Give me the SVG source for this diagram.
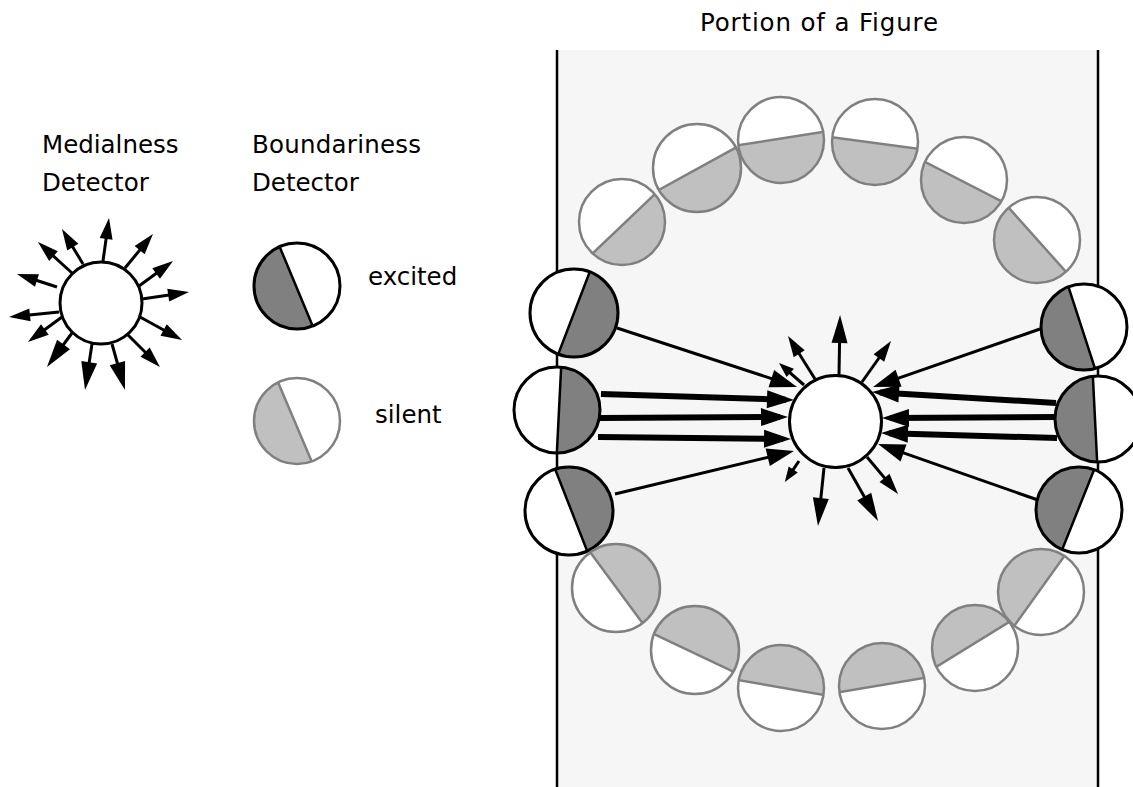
<svg xmlns="http://www.w3.org/2000/svg" width="1133" height="787" viewBox="0 0 1133 787">
<style>
 text { font-family: "DejaVu Sans", "Liberation Sans", sans-serif; font-size: 24.5px; fill: #000; }
 .bg { fill: #fff; }
 .dk { fill: #808080; stroke: #000; stroke-width: 2.5; }
 .lt { fill: #c0c0c0; stroke: #808080; stroke-width: 2.5; }
 .ring-ex { fill: none; stroke: #000; stroke-width: 3; }
 .ring-si { fill: none; stroke: #808080; stroke-width: 2.5; }
 .det { fill: #fff; stroke: #000; stroke-width: 3; }
 .sh { stroke: #000; stroke-width: 3; fill: none; }
 .thick { stroke-width: 6; }
 .sm { marker-end: url(#ah-sm); }
 .md { marker-end: url(#ah-md); }
 .lg { marker-end: url(#ah-lg); }
 .in { marker-end: url(#ah-in); }
 .edge { stroke: #000; stroke-width: 2.5; }
</style>
<defs>
 <clipPath id="c43"><circle r="43"/></clipPath>
 <clipPath id="c44"><circle r="44"/></clipPath>
 <marker id="ah-sm" markerUnits="userSpaceOnUse" markerWidth="15" markerHeight="11" refX="7" refY="5.5" orient="auto" overflow="visible"><path d="M0,0 L15,5.5 L0,11 z" fill="#000"/></marker>
 <marker id="ah-md" markerUnits="userSpaceOnUse" markerWidth="21" markerHeight="13" refX="13" refY="6.5" orient="auto" overflow="visible"><path d="M0,0 L21,6.5 L0,13 z" fill="#000"/></marker>
 <marker id="ah-lg" markerUnits="userSpaceOnUse" markerWidth="28" markerHeight="16" refX="20" refY="8" orient="auto" overflow="visible"><path d="M0,0 L28,8 L0,16 z" fill="#000"/></marker>
 <marker id="ah-in" markerUnits="userSpaceOnUse" markerWidth="27" markerHeight="18" refX="19" refY="9" orient="auto" overflow="visible"><path d="M0,0 L27,9 L0,18 z" fill="#000"/></marker>
</defs>

<!-- figure portion -->
<g id="figure-portion">
 <rect x="557" y="50" width="541" height="737" fill="#f6f6f6"/>
 <line class="edge" x1="557" y1="50" x2="557" y2="787"/>
 <line class="edge" x1="1098" y1="50" x2="1098" y2="787"/>
 <text x="700" y="31" textLength="238" lengthAdjust="spacing">Portion of a Figure</text>
</g>

<!-- legend texts -->
<g id="legend-labels">
 <text x="42" y="153">Medialness</text>
 <text x="42" y="191">Detector</text>
 <text x="252" y="153" textLength="169" lengthAdjust="spacing">Boundariness</text>
 <text x="252" y="191">Detector</text>
 <text x="368" y="285">excited</text>
 <text x="375" y="423">silent</text>
</g>

<!-- legend medialness detector -->
<g id="legend-medialness">
 <line class="sh md" x1="103" y1="261" x2="107.9" y2="225.9"/>
 <line class="sh md" x1="83" y1="264" x2="66.1" y2="235.9"/>
 <line class="sh md" x1="72" y1="273" x2="43.9" y2="247.4"/>
 <line class="sh md" x1="57" y1="287" x2="24.6" y2="276.5"/>
 <line class="sh md" x1="59" y1="312" x2="17" y2="316.2"/>
 <line class="sh md" x1="62" y1="317" x2="34.4" y2="337.3"/>
 <line class="sh lg" x1="72" y1="333" x2="51.7" y2="360.6"/>
 <line class="sh lg" x1="92" y1="344" x2="86.2" y2="382.1"/>
 <line class="sh lg" x1="112" y1="344" x2="122.8" y2="382.3"/>
 <line class="sh md" x1="128" y1="335" x2="154.3" y2="361.3"/>
 <line class="sh md" x1="140" y1="317" x2="175" y2="336.2"/>
 <line class="sh md" x1="142" y1="299" x2="181.1" y2="293.2"/>
 <line class="sh md" x1="139" y1="286" x2="166.6" y2="265.7"/>
 <line class="sh md" x1="125" y1="268" x2="147.9" y2="240.2"/>
 <circle class="det" cx="101" cy="303" r="41"/>
</g>

<g id="legend-excited" transform="translate(297,286)">
 <circle class="bg" r="43"/>
 <g clip-path="url(#c43)"><polygon class="dk" points="-26,-60 24,60 -60,60 -60,-60"/></g>
 <circle class="ring-ex" r="43"/>
</g>
<g id="legend-silent" transform="translate(297,421)">
 <circle class="bg" r="43"/>
 <g clip-path="url(#c43)"><polygon class="lt" points="-28,-60 23,60 -60,60 -60,-60"/></g>
 <circle class="ring-si" r="43"/>
</g>

<!-- connectors -->
<g id="connectors">
 <line class="sh in" x1="617" y1="328" x2="789.4" y2="384.5"/>
 <line class="sh thick in" x1="601" y1="394" x2="786" y2="399.8"/>
 <line class="sh thick in" x1="600" y1="418" x2="780" y2="417"/>
 <line class="sh thick in" x1="598" y1="437" x2="783" y2="438.9"/>
 <line class="sh in" x1="615" y1="494" x2="786.2" y2="452.9"/>
 <line class="sh in" x1="1040" y1="329" x2="880.6" y2="384.4"/>
 <line class="sh thick in" x1="1056" y1="403" x2="880" y2="392.5"/>
 <line class="sh thick in" x1="1056" y1="417" x2="890" y2="418"/>
 <line class="sh thick in" x1="1057" y1="438" x2="889" y2="433.2"/>
 <line class="sh in" x1="1038" y1="500" x2="885.6" y2="446.6"/>
</g>

<!-- central medialness detector -->
<g id="center-detector">
 <line class="sh lg" x1="839" y1="375" x2="839.9" y2="323"/>
 <line class="sh md" x1="815" y1="379" x2="792.3" y2="342.8"/>
 <line class="sh sm" x1="804" y1="385" x2="785" y2="368.3"/>
 <line class="sh md" x1="862" y1="382" x2="886.4" y2="347.5"/>
 <line class="sh sm" x1="799" y1="461" x2="789.3" y2="475.3"/>
 <line class="sh lg" x1="824" y1="468" x2="818.8" y2="518"/>
 <line class="sh lg" x1="848" y1="468" x2="874.1" y2="514"/>
 <line class="sh md" x1="867" y1="457" x2="892.9" y2="487.9"/>
 <circle class="det" cx="835.5" cy="421.5" r="46"/>
</g>

<!-- excited boundariness detectors -->
<g id="L1" transform="translate(574,313)"><circle class="bg" r="44"/><g clip-path="url(#c44)"><polygon class="dk" points="23,-60 -23,60 60,60 60,-60"/></g><circle class="ring-ex" r="44"/></g>
<g id="L2" transform="translate(557,410)"><circle class="bg" r="43"/><g clip-path="url(#c43)"><polygon class="dk" points="5,-60 -1,60 60,60 60,-60"/></g><circle class="ring-ex" r="43"/></g>
<g id="L3" transform="translate(569,511)"><circle class="bg" r="44"/><g clip-path="url(#c44)"><polygon class="dk" points="-21,-60 26,60 60,60 60,-60"/></g><circle class="ring-ex" r="44"/></g>
<g id="R1" transform="translate(1084,327)"><circle class="bg" r="43"/><g clip-path="url(#c43)"><polygon class="dk" points="-22,-60 17,60 -60,60 -60,-60"/></g><circle class="ring-ex" r="43"/></g>
<g id="R2" transform="translate(1098,419)"><circle class="bg" r="43"/><g clip-path="url(#c43)"><polygon class="dk" points="-6,-60 0,60 -60,60 -60,-60"/></g><circle class="ring-ex" r="43"/></g>
<g id="R3" transform="translate(1079,510)"><circle class="bg" r="43"/><g clip-path="url(#c43)"><polygon class="dk" points="23,-60 -25,60 -60,60 -60,-60"/></g><circle class="ring-ex" r="43"/></g>

<!-- silent boundariness detectors, top -->
<g id="T1" transform="translate(622,222)"><circle class="bg" r="43"/><g clip-path="url(#c43)"><polygon class="lt" points="52,-46 -51,52 -51,70 70,70 70,-46"/></g><circle class="ring-si" r="43"/></g>
<g id="T2" transform="translate(697,168)"><circle class="bg" r="44"/><g clip-path="url(#c44)"><polygon class="lt" points="58,-31 -62,35 -62,70 70,70 70,-31"/></g><circle class="ring-si" r="44"/></g>
<g id="T3" transform="translate(781,140)"><circle class="bg" r="43"/><g clip-path="url(#c43)"><polygon class="lt" points="-60,8 60,-11 60,60 -60,60"/></g><circle class="ring-si" r="43"/></g>
<g id="T4" transform="translate(875,142)"><circle class="bg" r="43"/><g clip-path="url(#c43)"><polygon class="lt" points="-60,-7 60,9 60,60 -60,60"/></g><circle class="ring-si" r="43"/></g>
<g id="T5" transform="translate(964,180)"><circle class="bg" r="43"/><g clip-path="url(#c43)"><polygon class="lt" points="-60,-29 60,33 60,60 -60,60"/></g><circle class="ring-si" r="43"/></g>
<g id="T6" transform="translate(1037,240)"><circle class="bg" r="43"/><g clip-path="url(#c43)"><polygon class="lt" points="-45,-51 47,52 47,70 -70,70 -70,-51"/></g><circle class="ring-si" r="43"/></g>

<!-- silent boundariness detectors, bottom -->
<g id="B1" transform="translate(616,588)"><circle class="bg" r="44"/><g clip-path="url(#c44)"><polygon class="lt" points="-40,-55 39,52 70,52 70,-70 -40,-70"/></g><circle class="ring-si" r="44"/></g>
<g id="B2" transform="translate(695,650)"><circle class="bg" r="44"/><g clip-path="url(#c44)"><polygon class="lt" points="-60,-25 60,32 60,-60 -60,-60"/></g><circle class="ring-si" r="44"/></g>
<g id="B3" transform="translate(781,688)"><circle class="bg" r="43"/><g clip-path="url(#c43)"><polygon class="lt" points="-60,-11 60,10 60,-60 -60,-60"/></g><circle class="ring-si" r="43"/></g>
<g id="B4" transform="translate(882,686)"><circle class="bg" r="43"/><g clip-path="url(#c43)"><polygon class="lt" points="-60,9 60,-11 60,-60 -60,-60"/></g><circle class="ring-si" r="43"/></g>
<g id="B5" transform="translate(975,648)"><circle class="bg" r="43"/><g clip-path="url(#c43)"><polygon class="lt" points="-60,32 60,-42 60,-60 -60,-60"/></g><circle class="ring-si" r="43"/></g>
<g id="B6" transform="translate(1041,592)"><circle class="bg" r="43"/><g clip-path="url(#c43)"><polygon class="lt" points="37,-55 -39,51 -70,51 -70,-70 37,-70"/></g><circle class="ring-si" r="43"/></g>
</svg>
